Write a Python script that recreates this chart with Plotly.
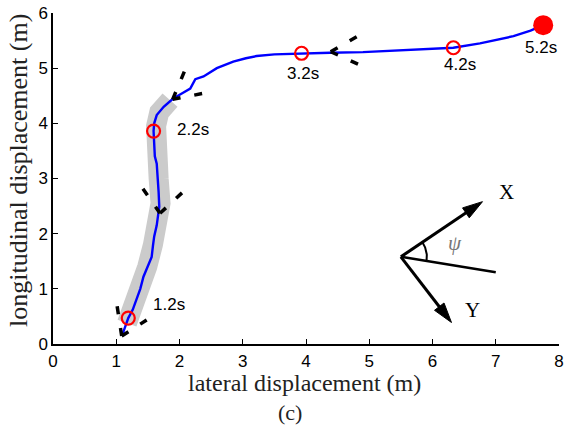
import numpy as np
import plotly.graph_objects as go

# ---------------- data ----------------
traj_x = [1.10, 1.19, 1.26, 1.32, 1.38, 1.43, 1.50, 1.56, 1.58, 1.60, 1.64, 1.67, 1.68, 1.67, 1.65,
          1.64, 1.61, 1.60, 1.59, 1.60, 1.64, 1.75, 1.90, 2.05, 2.17, 2.25, 2.38, 2.59, 2.85, 3.05,
          3.22, 3.50, 3.75, 3.93, 4.38, 4.90, 5.43, 5.90, 6.33, 6.75, 7.28, 7.55, 7.75]
traj_y = [0.18, 0.47, 0.62, 0.80, 1.00, 1.22, 1.40, 1.58, 1.78, 1.95, 2.15, 2.37, 2.49, 2.75, 3.00,
          3.27, 3.40, 3.60, 3.86, 4.00, 4.15, 4.30, 4.45, 4.55, 4.63, 4.80, 4.85, 5.00, 5.12, 5.18,
          5.22, 5.25, 5.26, 5.27, 5.28, 5.29, 5.32, 5.34, 5.37, 5.45, 5.58, 5.68, 5.78]

band_x = [1.17, 1.24, 1.35, 1.49, 1.58, 1.63, 1.70, 1.67, 1.64, 1.62, 1.63, 1.68, 1.85]
band_y = [0.38, 0.58, 0.92, 1.40, 1.80, 2.10, 2.55, 3.00, 3.30, 3.60, 3.95, 4.20, 4.42]

mark_x = [1.19, 1.59, 3.93, 6.33]
mark_y = [0.47, 3.86, 5.27, 5.37]
end_x = [7.75]
end_y = [5.78]

time_labels = ["1.2s", "2.2s", "3.2s", "4.2s", "5.2s"]
label_x = [1.83, 2.21, 3.95, 6.44, 7.72]
label_y = [0.71, 3.88, 4.91, 5.06, 5.37]

# heading "V" indicators: tip and two arm ends
v_tip_x = [1.086, 1.692, 1.892, 4.390]
v_tip_y = [0.145, 2.369, 4.435, 5.298]
v_a_x = [1.007, 1.418, 2.087, 4.802]
v_a_y = [0.738, 2.822, 4.966, 5.570]
v_b_x = [1.481, 2.060, 2.376, 4.854]
v_b_y = [0.435, 2.761, 4.544, 5.057]

# compass diagram
comp_origin = (5.50, 1.58)
comp_x_tip = (6.79, 2.58)
comp_y_tip = (6.30, 0.39)
comp_psi_end = (7.00, 1.30)

x_ticks = [0, 1, 2, 3, 4, 5, 6, 7, 8]
y_ticks = [0, 1, 2, 3, 4, 5, 6]

# ---------------- layout geometry ----------------
W, H = 566, 429
ML, MR, MT, MB = 53, 7, 13, 85
PW, PH = W - ML - MR, H - MT - MB
XR, YR = (0, 8), (0, 6)
SX = PW / (XR[1] - XR[0])
SY = PH / (YR[1] - YR[0])

def px_to_paper_x(px):
    return (px - ML) / PW

def px_to_paper_y(py):
    return (MT + PH - py) / PH

fig = go.Figure()

# gray band
fig.add_trace(go.Scatter(x=band_x, y=band_y, mode="lines",
                         line=dict(color="#cbcbcb", width=20), hoverinfo="skip"))
# trajectory
fig.add_trace(go.Scatter(x=traj_x, y=traj_y, mode="lines",
                         line=dict(color="#0000ff", width=2.4), hoverinfo="skip"))

# V indicators
vx, vy = [], []
for i in range(len(v_tip_x)):
    vx += [v_tip_x[i], v_a_x[i], None, v_tip_x[i], v_b_x[i], None]
    vy += [v_tip_y[i], v_a_y[i], None, v_tip_y[i], v_b_y[i], None]
fig.add_trace(go.Scatter(x=vx, y=vy, mode="lines",
                         line=dict(color="black", width=3.5, dash="8px,14px"), hoverinfo="skip"))

# time markers
fig.add_trace(go.Scatter(x=mark_x, y=mark_y, mode="markers",
                         marker=dict(symbol="circle-open", size=13, color="#ff0000",
                                     line=dict(width=2.2, color="#ff0000")), hoverinfo="skip"))
fig.add_trace(go.Scatter(x=end_x, y=end_y, mode="markers",
                         marker=dict(symbol="circle", size=20, color="#ff0000"), hoverinfo="skip"))

# compass arrows (shaft + triangular head computed in pixel space)
def arrow(o, t, head_len=20, head_half=6, width=3):
    dxp = (t[0] - o[0]) * SX
    dyp = (t[1] - o[1]) * SY
    L = np.hypot(dxp, dyp)
    ux, uy = dxp / L, dyp / L
    px, py = -uy, ux
    bx = t[0] - ux * head_len / SX
    by = t[1] - uy * head_len / SY
    fig.add_trace(go.Scatter(x=[o[0], bx + ux * 2 / SX], y=[o[1], by + uy * 2 / SY], mode="lines",
                             line=dict(color="black", width=width), hoverinfo="skip"))
    hx = [t[0], bx + px * head_half / SX, bx - px * head_half / SX, t[0]]
    hy = [t[1], by + py * head_half / SY, by - py * head_half / SY, t[1]]
    fig.add_trace(go.Scatter(x=hx, y=hy, mode="lines", fill="toself", fillcolor="black",
                             line=dict(color="black", width=1), hoverinfo="skip"))

arrow(comp_origin, comp_x_tip)
arrow(comp_origin, comp_y_tip)
fig.add_trace(go.Scatter(x=[comp_origin[0], comp_psi_end[0]], y=[comp_origin[1], comp_psi_end[1]],
                         mode="lines", line=dict(color="black", width=2.5), hoverinfo="skip"))

# angle arc
a1 = np.arctan2((comp_psi_end[1] - comp_origin[1]) * SY, (comp_psi_end[0] - comp_origin[0]) * SX)
a2 = np.arctan2((comp_x_tip[1] - comp_origin[1]) * SY, (comp_x_tip[0] - comp_origin[0]) * SX)
ang = np.linspace(a1, a2, 30)
R = 26
fig.add_trace(go.Scatter(x=comp_origin[0] + R * np.cos(ang) / SX,
                         y=comp_origin[1] + R * np.sin(ang) / SY,
                         mode="lines", line=dict(color="black", width=2), hoverinfo="skip"))

serif = "Liberation Serif, Times New Roman, serif"
sans = "Liberation Sans, Arial, sans-serif"

annotations = []
for t, lx, ly in zip(time_labels, label_x, label_y):
    annotations.append(dict(x=lx, y=ly, xref="x", yref="y", text=t, showarrow=False,
                            font=dict(family=sans, size=17, color="black")))
annotations.append(dict(x=7.17, y=2.75, xref="x", yref="y", text="X", showarrow=False,
                        font=dict(family=serif, size=21, color="black")))
annotations.append(dict(x=6.63, y=0.62, xref="x", yref="y", text="Y", showarrow=False,
                        font=dict(family=serif, size=21, color="black")))
annotations.append(dict(x=6.36, y=1.83, xref="x", yref="y", text="<i>ψ</i>", showarrow=False,
                        font=dict(family=serif, size=21, color="#777777")))
annotations.append(dict(x=px_to_paper_x(304), y=px_to_paper_y(383), xref="paper", yref="paper",
                        text="lateral displacement (m)", showarrow=False, yanchor="middle",
                        font=dict(family=serif, size=24, color="#222222")))
annotations.append(dict(x=px_to_paper_x(18), y=px_to_paper_y(171), xref="paper", yref="paper",
                        text="longitudinal displacement (m)", showarrow=False, textangle=-90,
                        xanchor="center", yanchor="middle",
                        font=dict(family=serif, size=26, color="#222222")))
annotations.append(dict(x=px_to_paper_x(290), y=px_to_paper_y(412), xref="paper", yref="paper",
                        text="(c)", showarrow=False, yanchor="middle",
                        font=dict(family=serif, size=22, color="#222222")))

axis_common = dict(showline=True, linecolor="black", linewidth=1.5, ticks="inside", ticklen=5,
                   tickwidth=1.2, tickcolor="black", showgrid=False, zeroline=False, mirror=False,
                   automargin=False,
                   tickfont=dict(family=sans, size=17, color="black"))

fig.update_layout(
    width=W, height=H, margin=dict(l=ML, r=MR, t=MT, b=MB),
    paper_bgcolor="white", plot_bgcolor="white", showlegend=False,
    xaxis=dict(range=list(XR), tickvals=x_ticks, ticktext=[str(v) for v in x_ticks],
               ticklabelstandoff=1, **axis_common),
    yaxis=dict(range=list(YR), tickvals=y_ticks, ticktext=[str(v) for v in y_ticks], **axis_common),
    annotations=annotations,
)

# remove the default page margin so the 566x429 figure fills the window exactly
page_fix = ("document.documentElement.style.overflow='hidden';"
            "document.body.style.margin='0';document.body.style.overflow='hidden';")
fig.write_html("out.html", post_script=page_fix, config={"displayModeBar": False})
